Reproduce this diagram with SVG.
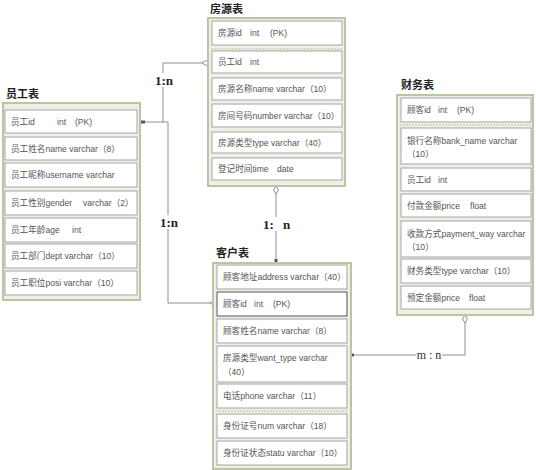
<svg xmlns="http://www.w3.org/2000/svg" width="536" height="470" viewBox="0 0 536 470">
<style>
.outer{fill:#eef0e6;stroke:#bcc4a4;stroke-width:2}
.row{fill:#fff;stroke:#a4a4a4;stroke-width:1}
.rowd{fill:#fff;stroke:#555;stroke-width:1}
.sep{stroke:#b8c4a0;stroke-width:1;stroke-dasharray:2 1}
.t{font-family:"Liberation Sans","Noto Sans CJK SC",sans-serif;font-size:8.6px;fill:#555}
.title{font-family:"Noto Sans CJK SC","Liberation Serif",serif;font-size:11px;font-weight:bold;fill:#222}
.lab{font-family:"Liberation Serif","Noto Sans CJK SC",serif;font-size:13px;font-weight:bold;fill:#222}
.ln{fill:none;stroke:#8e8aa6;stroke-width:1}
.dia{fill:#fff;stroke:#8e8aa6;stroke-width:1}
.dot{fill:#55527a}
</style>
<rect width="536" height="470" fill="#fff"/>

<g id="connectors">
<path class="ln" d="M140,122 H168 V303 H210"/>
<path class="ln" d="M163,122 V63 H202"/>
<path class="ln" d="M276,194 V260"/>
<path class="ln" d="M465,323 V355 H351"/>
<path class="dia" d="M202,63 L206,60.5 L210,63 L206,65.5 Z"/>
<path class="dia" d="M210,303 L214,300.5 L218,303 L214,305.5 Z"/>
<path class="dia" d="M276,186 L278.5,190 L276,194 L273.5,190 Z"/>
<path class="dia" d="M465,315 L467.5,319 L465,323 L462.5,319 Z"/>
<rect class="dot" x="140" y="120.5" width="5" height="3"/>
<rect class="dot" x="274.5" y="259" width="3" height="3"/>
<rect class="dot" x="351" y="353.5" width="3" height="3"/>
<rect x="152" y="73" width="25" height="14" fill="#fff"/>
<text class="lab" x="164" y="85" text-anchor="middle">1:n</text>
<rect x="157" y="215" width="25" height="14" fill="#fff"/>
<text class="lab" x="169" y="227" text-anchor="middle">1:n</text>
<rect x="261" y="217" width="32" height="14" fill="#fff"/>
<text class="lab" x="263" y="229">1:</text><text class="lab" x="283" y="229">n</text>
<rect x="416" y="349" width="26" height="12" fill="#fff"/>
<text class="lab" x="429" y="359" text-anchor="middle" style="font-weight:normal;font-size:12px;fill:#333">m : n</text>
</g>

<g id="fangyuan">
<text class="title" x="210" y="13">房源表</text>
<rect class="outer" x="208" y="18" width="137" height="168"/>
<rect class="row" x="212" y="21" width="130" height="24"/>
<line class="sep" x1="211" y1="49" x2="343" y2="49"/>
<rect class="row" x="212" y="51" width="130" height="22"/>
<rect class="row" x="212" y="78" width="130" height="22"/>
<rect class="row" x="212" y="104" width="130" height="23"/>
<rect class="row" x="212" y="132" width="130" height="21"/>
<rect class="row" x="212" y="158" width="130" height="22"/>
<text class="t" x="218" y="36">房源id<tspan x="250">int</tspan><tspan x="270">(PK)</tspan></text>
<text class="t" x="218" y="65">员工id<tspan x="250">int</tspan></text>
<text class="t" x="218" y="92">房源名称name varchar（10）</text>
<text class="t" x="218" y="119">房间号码number varchar（10）</text>
<text class="t" x="218" y="146">房源类型type varchar（40）</text>
<text class="t" x="218" y="172">登记时间time<tspan x="277">date</tspan></text>
</g>

<g id="yuangong">
<text class="title" x="6" y="98">员工表</text>
<rect class="outer" x="3" y="103" width="137" height="197"/>
<rect class="row" x="5" y="110" width="132" height="23"/>
<rect class="row" x="5" y="137" width="132" height="23"/>
<rect class="row" x="5" y="163" width="132" height="24"/>
<rect class="row" x="5" y="191" width="132" height="24"/>
<rect class="row" x="5" y="218" width="132" height="24"/>
<rect class="row" x="5" y="244" width="132" height="24"/>
<rect class="row" x="5" y="271" width="132" height="24"/>
<text class="t" x="11" y="125">员工id<tspan x="57">int</tspan><tspan x="75">(PK)</tspan></text>
<text class="t" x="11" y="152">员工姓名name varchar（8）</text>
<text class="t" x="11" y="178">员工昵称username varchar</text>
<text class="t" x="11" y="206">员工性别gender<tspan x="83">varchar（2）</tspan></text>
<text class="t" x="11" y="233">员工年龄age<tspan x="72">int</tspan></text>
<text class="t" x="11" y="259">员工部门dept varchar（10）</text>
<text class="t" x="11" y="286">员工职位posi varchar（10）</text>
</g>

<g id="caiwu">
<text class="title" x="401" y="89">财务表</text>
<rect class="outer" x="397" y="95" width="136" height="220"/>
<rect class="row" x="401" y="98" width="130" height="24"/>
<line class="sep" x1="400" y1="125" x2="532" y2="125"/>
<rect class="row" x="401" y="128" width="130" height="36"/>
<rect class="row" x="401" y="168" width="130" height="23"/>
<rect class="row" x="401" y="194" width="130" height="23"/>
<rect class="row" x="401" y="221" width="130" height="36"/>
<rect class="row" x="401" y="259" width="130" height="24"/>
<rect class="row" x="401" y="286" width="130" height="23"/>
<text class="t" x="407" y="113">顾客id<tspan x="438">int</tspan><tspan x="457">(PK)</tspan></text>
<text class="t" x="407" y="144">银行名称bank_name varchar</text>
<text class="t" x="407" y="157">（10）</text>
<text class="t" x="407" y="183">员工id<tspan x="438">int</tspan></text>
<text class="t" x="407" y="209">付款金额price<tspan x="470">float</tspan></text>
<text class="t" x="407" y="237">收款方式payment_way varchar</text>
<text class="t" x="407" y="250">（10）</text>
<text class="t" x="407" y="274">财务类型type varchar（10）</text>
<text class="t" x="407" y="301">预定金额price<tspan x="469">float</tspan></text>
</g>

<g id="kehu">
<text class="title" x="216" y="257">客户表</text>
<rect class="outer" x="213" y="263" width="138" height="206"/>
<rect class="row" x="217" y="265" width="130" height="24"/>
<rect class="rowd" x="217" y="292" width="130" height="24"/>
<rect class="row" x="217" y="319" width="130" height="24"/>
<rect class="row" x="217" y="346" width="130" height="36"/>
<rect class="row" x="217" y="384" width="130" height="24"/>
<line class="sep" x1="216" y1="411" x2="348" y2="411"/>
<rect class="row" x="217" y="414" width="130" height="24"/>
<rect class="row" x="217" y="441" width="130" height="24"/>
<text class="t" x="223" y="280">顾客地址address varchar（40）</text>
<text class="t" x="223" y="307">顾客id<tspan x="254">int</tspan><tspan x="273">(PK)</tspan></text>
<text class="t" x="223" y="334">顾客姓名name varchar（8）</text>
<text class="t" x="223" y="361">房源类型want_type varchar</text>
<text class="t" x="223" y="375">（40）</text>
<text class="t" x="223" y="399">电话phone varchar（11）</text>
<text class="t" x="223" y="429">身份证号num varchar（18）</text>
<text class="t" x="223" y="456">身份证状态statu varchar（10）</text>
</g>
</svg>
